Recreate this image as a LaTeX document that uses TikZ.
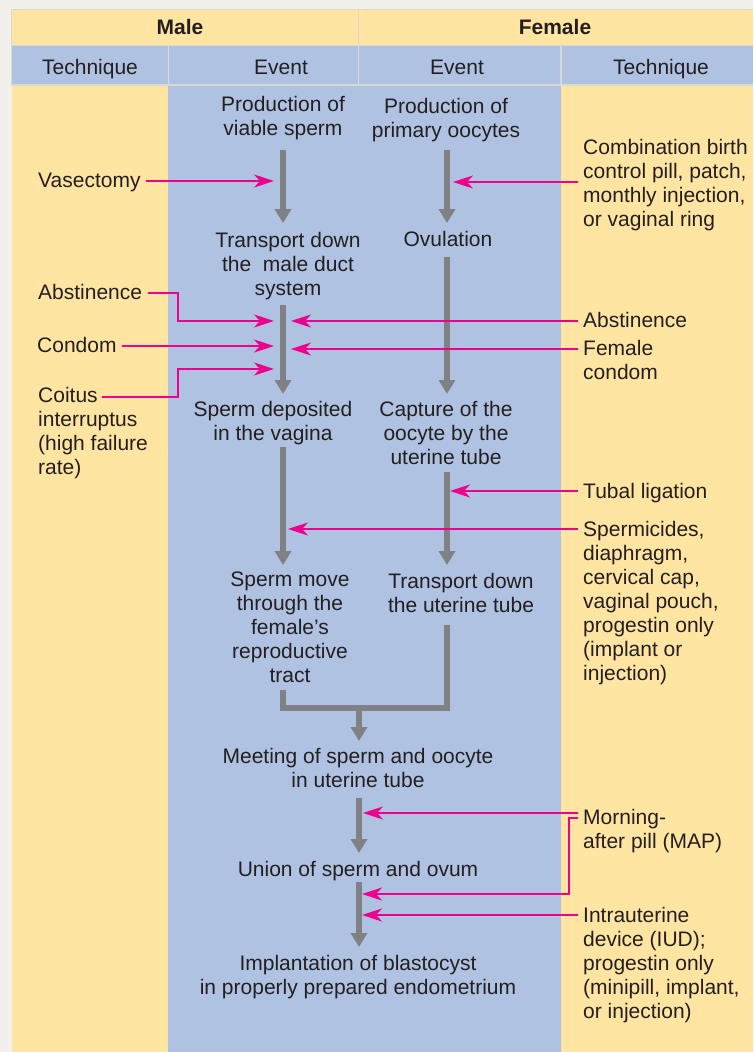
\documentclass[tikz,border=0pt]{standalone}
\usepackage{fontspec}
\setmainfont{Liberation Sans}
\usetikzlibrary{arrows.meta,calc}
\definecolor{frame}{HTML}{F1F0EA}
\definecolor{cellyel}{HTML}{FFE4A2}
\definecolor{cellblue}{HTML}{B0C2E1}
\definecolor{sepline}{HTML}{D9D9D3}
\definecolor{shaft}{HTML}{808184}
\definecolor{mag}{HTML}{EC008C}
\definecolor{ink}{HTML}{231F20}
\tikzset{
  txt/.style={font=\fontsize{21pt}{24pt}\selectfont, text=ink, inner sep=0pt},
  ev/.style={txt, align=center, anchor=north},
  lab/.style={txt, align=left, anchor=north west},
  hd/.style={txt, font=\fontsize{21pt}{24pt}\selectfont\bfseries, anchor=base},
  hc/.style={txt, anchor=base},
  gar/.style={draw=shaft, line width=5.5pt, -{Triangle[width=16pt,length=14pt]}},
  gline/.style={draw=shaft, line width=5.5pt, line join=miter},
  mar/.style={draw=mag, line width=2.5pt, -{Stealth[width=13pt,length=20pt,inset=6pt]}},
}
\begin{document}
\begin{tikzpicture}[x=1pt,y=-1pt]
\useasboundingbox (0,0) rectangle (753,1052);
% background and table cells
\fill[frame] (0,0) rectangle (753,1052);
\fill[sepline] (11,8.5) rectangle (753,85.5);
\fill[cellyel] (12,9.5) rectangle (357.5,44.5);
\fill[cellyel] (359,9.5) rectangle (753,44.5);
\fill[cellblue] (12,46) rectangle (167.5,84);
\fill[cellblue] (169,46) rectangle (357.5,84);
\fill[cellblue] (359,46) rectangle (560,84);
\fill[cellblue] (561.5,46) rectangle (753,84);
\fill[cellyel] (12,85.5) rectangle (168,1052);
\fill[cellblue] (168,85.5) rectangle (561,1052);
\fill[cellyel] (561,85.5) rectangle (753,1052);

% headers
\node[hd] (hmale) at (180,34.5) {Male};
\node[hd] (hfemale) at (555,34.5) {Female};
\node[hc] (htl) at (90,74.5) {Technique};
\node[hc] (hel) at (281,74.5) {Event};
\node[hc] (her) at (457,74.5) {Event};
\node[hc] (htr) at (661,74.5) {Technique};

% event nodes
\node[ev] (ps) at (283,96) {Production of\\viable sperm};
\node[ev] (po) at (446,98) {Production of\\primary oocytes};
\node[ev] (tm) at (288,232) {Transport down\\the\ \ male duct\\system};
\node[ev] (ov) at (448,231) {Ovulation};
\node[ev] (sd) at (273,401) {Sperm deposited\\in the vagina};
\node[ev] (co) at (446,401) {Capture of the\\oocyte by the\\uterine tube};
\node[ev] (sm) at (290,572) {Sperm move\\through the\\female’s\\reproductive\\tract};
\node[ev] (tu) at (461,573) {Transport down\\the uterine tube};
\node[ev] (me) at (358,748) {Meeting of sperm and oocyte\\in uterine tube};
\node[ev] (un) at (358,861) {Union of sperm and ovum};
\node[ev] (im) at (358,955) {Implantation of blastocyst\\in properly prepared endometrium};

% technique labels, left
\node[lab] (vas) at (38,173) {Vasectomy};
\node[lab] (abl) at (38,284) {Abstinence};
\node[lab] (con) at (37,337) {Condom};
\node[lab] (coi) at (38,387) {Coitus\\interruptus\\(high failure\\rate)};

% technique labels, right
\node[lab] (cmb) at (583,139) {Combination birth\\control pill, patch,\\monthly injection,\\or vaginal ring};
\node[lab] (abr) at (583,312) {Abstinence};
\node[lab] (fc) at (583,340) {Female\\condom};
\node[lab] (tl) at (583,483) {Tubal ligation};
\node[lab] (spr) at (583,521) {Spermicides,\\diaphragm,\\cervical cap,\\vaginal pouch,\\progestin only\\(implant or\\injection)};
\node[lab] (map) at (583,809) {Morning-\\after pill (MAP)};
\node[lab] (iud) at (583,907) {Intrauterine\\device (IUD);\\progestin only\\(minipill, implant,\\or injection)};

% coordinates for arrow ends
\coordinate (m1a) at (283,150); \coordinate (m1b) at (283,223);
\coordinate (f1a) at (447,150); \coordinate (f1b) at (447,223);
\coordinate (m2a) at (283,305); \coordinate (m2b) at (283,394);
\coordinate (f2a) at (447,257); \coordinate (f2b) at (447,394);
\coordinate (m3a) at (283,447); \coordinate (m3b) at (283,565);
\coordinate (f3a) at (447,472); \coordinate (f3b) at (447,565);
\coordinate (jm) at (283,690); \coordinate (jf) at (447,625);
\coordinate (jc) at (359,708); \coordinate (jd) at (359,741);
\coordinate (u1a) at (359,798); \coordinate (u1b) at (359,853);
\coordinate (u2a) at (359,882); \coordinate (u2b) at (359,947);

% gray event arrows
\draw[gar] (m1a) -- (m1b);
\draw[gar] (f1a) -- (f1b);
\draw[gar] (m2a) -- (m2b);
\draw[gar] (f2a) -- (f2b);
\draw[gar] (m3a) -- (m3b);
\draw[gar] (f3a) -- (f3b);
\draw[gline] (jm) |- (jc -| jf) -- (jf);
\draw[gar] (jc) -- (jd);
\draw[gar] (u1a) -- (u1b);
\draw[gar] (u2a) -- (u2b);

% magenta technique arrows, left
\draw[mar] ($(vas.north west)+(108,8)$) -- (274,181);
\draw[mar] ($(abl.north west)+(110,9)$) -- (178,293) -- (178,321) -- (274,321);
\draw[mar] ($(con.north west)+(85,9)$) -- (274,346);
\draw[mar] ($(coi.north west)+(64,10)$) -- (178,397) -- (178,369) -- (274,369);

% magenta technique arrows, right
\draw[mar] ($(cmb.north west)+(-5,43)$) -- (453,182);
\draw[mar] ($(abr.north west)+(-5,9)$) -- (291,321);
\draw[mar] ($(fc.north west)+(-5,9)$) -- (291,349);
\draw[mar] ($(tl.north west)+(-5,8)$) -- (450,491);
\draw[mar] ($(spr.north west)+(-5,8)$) -- (288,529);
\draw[mar] ($(map.north west)+(-5,4)$) -- (363,813);
\draw[mar] ($(map.north west)+(-5,9)$) -- (569,818) -- (569,894) -- (362,894);
\draw[mar] ($(iud.north west)+(-5,8)$) -- (362,915);
\end{tikzpicture}
\end{document}
